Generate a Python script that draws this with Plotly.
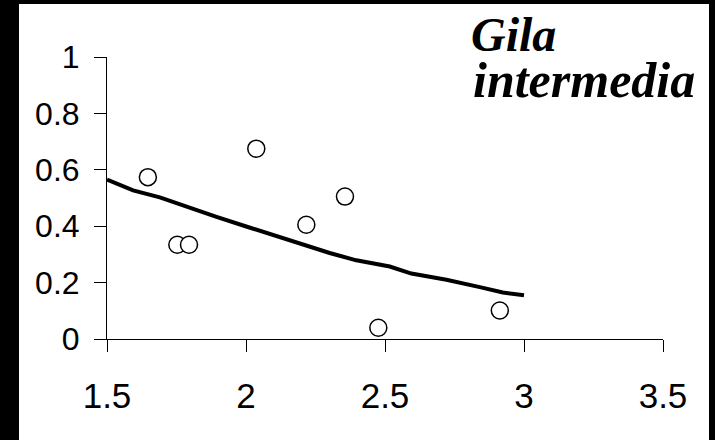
import plotly.graph_objects as go

# Observed points
pts_x = [1.647, 1.753, 1.795, 2.037, 2.217, 2.356, 2.476, 2.913]
pts_y = [0.574, 0.334, 0.334, 0.675, 0.405, 0.505, 0.040, 0.101]

# Fitted curve
fit_x = [1.500, 1.594, 1.690, 1.797, 1.894, 2.001, 2.091, 2.205, 2.301, 2.397,
         2.517, 2.595, 2.721, 2.841, 2.924, 3.000]
fit_y = [0.565, 0.527, 0.502, 0.465, 0.433, 0.399, 0.370, 0.334, 0.305, 0.279,
         0.257, 0.232, 0.210, 0.184, 0.165, 0.155]

x_ticks = [1.5, 2, 2.5, 3, 3.5]
y_ticks = [0, 0.2, 0.4, 0.6, 0.8, 1]
label_lines = ["Gila", "intermedia"]

fig = go.Figure()
fig.add_trace(go.Scatter(x=fit_x, y=fit_y, mode="lines",
                         line=dict(color="black", width=4), showlegend=False))
fig.add_trace(go.Scatter(x=pts_x, y=pts_y, mode="markers",
                         marker=dict(symbol="circle", size=17, color="white",
                                     line=dict(color="black", width=1.5)),
                         showlegend=False))

L, R, T, B = 107, 52, 57, 101
W, H = 715, 440
pw, ph = W - L - R, H - T - B

def px2paper_x(px):
    return (px - L) / pw

def px2paper_y(py):
    return (H - B - py) / ph

# black frame (left, top, right)
for (x0, x1, y0, y1) in [(0, 19, 0, 440), (0, 715, 0, 4), (709, 715, 0, 440)]:
    fig.add_shape(type="rect", xref="paper", yref="paper", layer="below",
                  x0=px2paper_x(x0), x1=px2paper_x(x1),
                  y0=px2paper_y(y1), y1=px2paper_y(y0),
                  fillcolor="black", line=dict(width=0))

for txt, lx, base, sz in zip(label_lines, [470, 472], [50, 97], [48, 50]):
    fig.add_annotation(text=txt, xref="paper", yref="paper",
                       x=px2paper_x(lx), y=px2paper_y(base + 12),
                       xanchor="left", yanchor="bottom", align="left", showarrow=False,
                       borderpad=0,
                       font=dict(family="Liberation Serif", size=sz, color="black",
                                 weight="bold", style="italic"))

fig.update_layout(
    width=W, height=H,
    margin=dict(l=L, r=R, t=T, b=B),
    paper_bgcolor="white", plot_bgcolor="white",
    font=dict(family="Liberation Sans", color="black"),
)
fig.update_xaxes(range=[1.5, 3.5], tickvals=x_ticks, showgrid=False, zeroline=False,
                 showline=True, linecolor="black", linewidth=1,
                 ticks="outside", ticklen=12, tickcolor="black", tickwidth=1,
                 tickfont=dict(size=35, family="Liberation Sans", color="black"),
                 ticklabelstandoff=14)
fig.update_yaxes(range=[0, 1], tickvals=y_ticks, showgrid=False, zeroline=False,
                 showline=True, linecolor="black", linewidth=1,
                 ticks="outside", ticklen=12, tickcolor="black", tickwidth=1,
                 tickfont=dict(size=32, family="Liberation Sans", color="black"),
                 ticklabelstandoff=8)

fig.write_html(
    "out.html",
    post_script=("document.documentElement.style.overflow='hidden';"
                 "document.body.style.overflow='hidden';"
                 "document.body.style.margin='0';"
                 "document.body.style.background='white';"),
)
